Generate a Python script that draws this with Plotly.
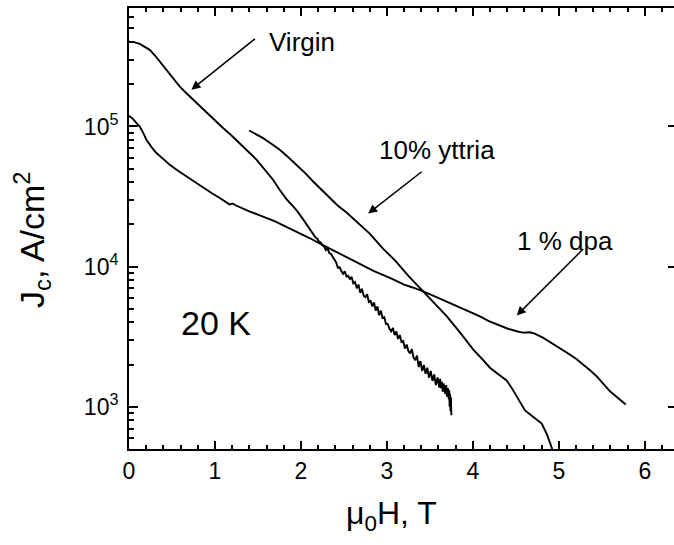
import plotly.graph_objects as go
import math

# ---- data ----
virgin_x = [0.0, 0.06, 0.125, 0.18, 0.241, 0.30, 0.357, 0.415, 0.473, 0.53, 0.589, 0.65, 0.706, 0.80,
            0.901, 1.0, 1.094, 1.19, 1.288, 1.38, 1.483, 1.58, 1.676, 1.75, 1.832, 1.90, 1.95, 2.02,
            2.10, 2.13, 2.15, 2.17, 2.19, 2.21, 2.23, 2.25, 2.27, 2.29, 2.31, 2.33, 2.35, 2.37, 2.39,
            2.41, 2.43, 2.45, 2.47, 2.49, 2.51, 2.53, 2.55, 2.57, 2.59, 2.61, 2.63, 2.65, 2.67, 2.69,
            2.71, 2.73, 2.75, 2.77, 2.79, 2.81, 2.83, 2.85, 2.87, 2.89, 2.91, 2.93, 2.95, 2.97, 2.99,
            3.01, 3.03, 3.05, 3.07, 3.09, 3.11, 3.13, 3.15, 3.17, 3.19, 3.21, 3.23, 3.25, 3.27, 3.29,
            3.31, 3.33, 3.35, 3.37, 3.39, 3.41, 3.43, 3.45, 3.47, 3.49, 3.51, 3.53, 3.55, 3.57, 3.59,
            3.61, 3.62, 3.63, 3.64, 3.65, 3.66, 3.67, 3.68, 3.69, 3.70, 3.71, 3.72, 3.725, 3.73,
            3.735, 3.74, 3.745, 3.75]
virgin_y = [403000, 400000, 388000, 372000, 352000, 322000, 291000, 262000, 233000, 212000, 193000,
            177000, 164000, 144000, 125000, 110000, 97500, 86500, 76200, 66800, 58000, 49500, 41700,
            35500, 30300, 27300, 25200, 22000,
            18700, 17600, 17100, 16100, 15800, 15100, 14900, 14200, 13900, 13100, 13500, 12500, 12300,
            11800, 11300, 10700, 9800, 9900, 9300, 8900, 9250, 8500, 8600, 8100, 8450, 7600, 7750,
            7000, 7450, 6500, 6950, 6200, 6050, 6350, 5600, 5700, 5200, 5550, 4850, 5200, 4500, 4850,
            4300, 4350, 3900, 3900, 3600, 3450, 3650, 3250, 3450, 3050, 3250, 2900, 2950, 2600, 2780,
            2500, 2400, 2580, 2250, 2150, 2320, 1920, 2120, 1800, 1990, 1720, 1900, 1610, 1800, 1530,
            1700, 1430, 1620, 1370, 1580, 1360, 1510, 1280, 1470, 1310, 1230, 1430, 1180, 1360,
            1130, 1320, 1000, 1240, 930, 1170, 870, 1090, 830]

yttria_x = [1.397, 1.48, 1.560, 1.66, 1.754, 1.85, 1.949, 2.05, 2.142, 2.24, 2.336, 2.43, 2.531, 2.63,
            2.724, 2.80, 2.957, 3.10, 3.25, 3.423, 3.55, 3.695, 3.85, 4.005, 4.10, 4.199, 4.30, 4.393,
            4.45, 4.510, 4.607, 4.70, 4.801, 4.86, 4.917, 4.95]
yttria_y = [93600, 88000, 82600, 75000, 68200, 60500, 53300, 46500, 40500, 35300, 30900, 27200, 24300,
            21300, 19000, 17200, 13400, 11000, 8600, 6660, 5500, 4430, 3400, 2560, 2220, 1900, 1700,
            1540, 1370, 1190, 942, 850, 760, 640, 501, 450]

dpa_x = [0.0, 0.04, 0.086, 0.125, 0.165, 0.203, 0.26, 0.319, 0.40, 0.474, 0.57, 0.668, 0.76, 0.861,
         0.96, 1.056, 1.12, 1.172, 1.19, 1.211, 1.24, 1.30, 1.40, 1.50, 1.560, 1.70, 1.80, 1.949, 2.10,
         2.25, 2.40, 2.55, 2.724, 2.85, 3.035, 3.20, 3.30, 3.423, 3.55, 3.70, 3.811, 3.95, 4.083, 4.18,
         4.277, 4.40, 4.510, 4.58, 4.665, 4.72, 4.820, 4.90, 4.975, 5.10, 5.20, 5.285, 5.36, 5.441,
         5.52, 5.596, 5.65, 5.712, 5.74, 5.779]
dpa_y = [119000, 114000, 106000, 100000, 90000, 80400, 71500, 64600, 58500, 53300, 48300, 44000, 40000,
         36400, 33500, 30900, 29200, 27700, 28100, 28100, 27400, 26300, 24800, 23500, 22800, 21000,
         19600, 17800, 16000, 14300, 12800, 11500, 10200, 9300, 8300, 7450, 7100, 6660, 6150, 5600,
         5210, 4800, 4420, 4100, 3860, 3620, 3460, 3380, 3400, 3330, 3100, 2900, 2710, 2420, 2200,
         2000, 1830, 1650, 1460, 1290, 1210, 1130, 1080, 1040]

y_major = [1e3, 1e4, 1e5]
y_major_text = ["10<sup>3</sup>", "10<sup>4</sup>", "10<sup>5</sup>"]
y_minor = [600, 700, 800, 900, 2000, 3000, 4000, 5000, 6000, 7000, 8000, 9000,
           20000, 30000, 40000, 50000, 60000, 70000, 80000, 90000,
           200000, 300000, 400000, 500000, 600000, 700000]
x_major = [0, 1, 2, 3, 4, 5, 6]

FONT = "Liberation Sans, Arial, sans-serif"
line_style = dict(color="black", width=1.9)

fig = go.Figure()
fig.add_trace(go.Scatter(x=virgin_x, y=virgin_y, mode="lines", line=line_style, name="Virgin"))
fig.add_trace(go.Scatter(x=yttria_x, y=yttria_y, mode="lines", line=line_style, name="10% yttria"))
fig.add_trace(go.Scatter(x=dpa_x, y=dpa_y, mode="lines", line=line_style, name="1 % dpa"))
fig.add_trace(go.Scatter(x=[], y=[], yaxis="y2", showlegend=False))

yr = [math.log10(500), math.log10(7e5)]

fig.update_layout(
    width=674, height=545,
    margin=dict(l=129, r=0, t=8, b=96),
    paper_bgcolor="white", plot_bgcolor="white",
    showlegend=False,
    font=dict(family=FONT, color="black"),
    xaxis=dict(range=[0, 6.34], tickvals=x_major, ticks="inside", ticklen=8, tickwidth=1.5,
               tickcolor="black", showline=True, linewidth=2, linecolor="black", mirror="ticks",
               showgrid=False, zeroline=False, tickfont=dict(size=23, family=FONT),
               minor=dict(ticks="inside", ticklen=4, tickwidth=1.5, tickcolor="black",
                          dtick=0.2, tick0=0, showgrid=False)),
    yaxis=dict(type="log", range=yr, autorange=False, tickvals=y_major, ticktext=y_major_text,
               ticks="inside", ticklen=9, tickwidth=1.5, tickcolor="black",
               showline=True, linewidth=2, linecolor="black", mirror=False,
               showgrid=False, zeroline=False, tickfont=dict(size=23, family=FONT),
               ticklabelstandoff=4,
               minor=dict(ticks="inside", ticklen=5, tickwidth=1.5, tickcolor="black",
                          tickvals=y_minor, showgrid=False)),
    yaxis2=dict(type="log", range=yr, autorange=False, overlaying="y", side="right", anchor="x",
                tickvals=y_major, ticks="inside", ticklen=6, tickwidth=1.5, tickcolor="black",
                showticklabels=False, showline=False, showgrid=False, zeroline=False),
)

def L(v):
    return math.log10(v)

ann_font = dict(size=26, family=FONT, color="black")
annotations = [
    # labels
    dict(x=1.60, y=L(4.0e5), text="Virgin", showarrow=False, xanchor="left", yanchor="middle", font=ann_font),
    dict(x=2.88, y=L(6.8e4), text="10% yttria", showarrow=False, xanchor="left", yanchor="middle", font=ann_font),
    dict(x=4.49, y=L(1.53e4), text="1 % dpa", showarrow=False, xanchor="left", yanchor="middle", font=ann_font),
    dict(x=1.01, y=L(3.95e3), text="20 K", showarrow=False, xanchor="center", yanchor="middle",
         font=dict(size=34, family=FONT, color="black")),
    # arrows
    dict(x=0.726, y=L(1.83e5), ax=65, ay=-52, text="", showarrow=True, arrowhead=2, arrowsize=1.2,
         arrowwidth=1.5, arrowcolor="black"),
    dict(x=2.782, y=L(2.39e4), ax=55, ay=-43, text="", showarrow=True, arrowhead=2, arrowsize=1.2,
         arrowwidth=1.5, arrowcolor="black"),
    dict(x=4.51, y=L(4.48e3), ax=68, ay=-68, text="", showarrow=True, arrowhead=2, arrowsize=1.2,
         arrowwidth=1.5, arrowcolor="black"),
    # axis titles
    dict(xref="paper", yref="paper", x=(391 - 129) / 545, y=-(515 - 449) / 441,
         text="μ<sub>0</sub>H, T", showarrow=False, xanchor="center", yanchor="middle",
         font=dict(size=32, family=FONT, color="black")),
    dict(xref="paper", yref="paper", x=-(129 - 32) / 545, y=(449 - 240) / 441,
         text="J<sub>c</sub>, A/cm<sup>2</sup>", showarrow=False, textangle=-90,
         xanchor="center", yanchor="middle", font=dict(size=34, family=FONT, color="black")),
]
fig.update_layout(annotations=annotations)

fig.write_html("out.html")
